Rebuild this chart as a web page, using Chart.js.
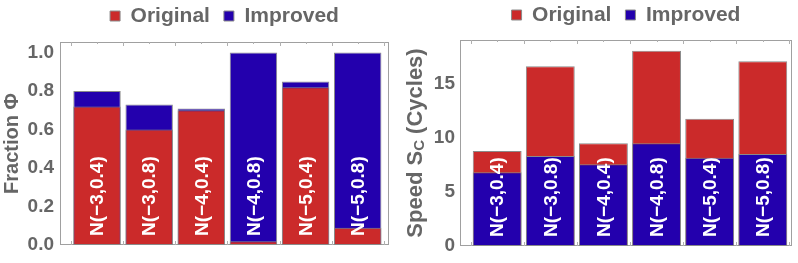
<!DOCTYPE html>
<html><head><meta charset="utf-8">
<script src="https://cdn.jsdelivr.net/npm/chart.js@4"></script>
<style>
html,body{margin:0;padding:0;background:#fff;}
#wrap{position:relative;width:798px;height:263px;overflow:hidden;}
.c{position:absolute;top:0;width:399px;height:263px;}
#c1{left:0;} #c2{left:399px;}
</style></head><body>
<div id="wrap"><div class="c" id="c1"><canvas id="left"></canvas></div><div class="c" id="c2"><canvas id="right"></canvas></div></div>
<script>
const categories = ["N(−3,0.4)","N(−3,0.8)","N(−4,0.4)","N(−4,0.8)","N(−5,0.4)","N(−5,0.8)"];
const fractionOriginal = [0.72, 0.60, 0.70, 0.02, 0.82, 0.09];
const fractionImproved = [0.80, 0.73, 0.71, 1.00, 0.85, 1.00];
const speedOriginal = [8.76, 16.56, 9.47, 18.0, 11.73, 17.02];
const speedImproved = [6.79, 8.29, 7.53, 9.47, 8.14, 8.48];
const fractionTicks = [0, 0.2, 0.4, 0.6, 0.8, 1.0];
const speedTicks = [0, 5, 10, 15];
const seriesNames = ["Original", "Improved"];

const RED = '#cb2a2a', BLUE = '#2300ad', GRAY = '#666666';
const FONT = "'Liberation Sans', Arial, sans-serif";

const framePlugin = {
  id: 'frame',
  beforeDatasetsDraw(chart) {
    const {ctx, chartArea: a, scales: {x}} = chart;
    ctx.save();
    ctx.strokeStyle = '#a0a0a0';
    ctx.lineWidth = 1;
    ctx.strokeRect(Math.round(a.left) + 0.5, Math.round(a.top) + 0.5, Math.round(a.right - a.left) - 1, Math.round(a.bottom - a.top) - 1);
    ctx.strokeStyle = '#b0b0b0';
    for (let i = -0.5; i <= categories.length - 0.5; i += 0.5) {
      const px = Math.round(x.getPixelForValue(i)) + 0.5;
      const len = Number.isInteger(i) ? 2 : 4;
      ctx.beginPath();
      ctx.moveTo(px, a.top); ctx.lineTo(px, a.top + len);
      ctx.moveTo(px, a.bottom); ctx.lineTo(px, a.bottom - len);
      ctx.stroke();
    }
    ctx.restore();
  }
};

const labelPlugin = {
  id: 'barLabels',
  afterDatasetsDraw(chart) {
    const {ctx, scales: {x, y}} = chart;
    ctx.save();
    ctx.fillStyle = '#ffffff';
    ctx.font = 'bold 19px ' + FONT;
    ctx.textAlign = 'left';
    ctx.textBaseline = 'middle';
    const y0 = y.getPixelForValue(0) - 9;
    categories.forEach((c, i) => {
      ctx.save();
      ctx.translate(x.getPixelForValue(i) + 1, y0);
      ctx.rotate(-Math.PI / 2);
      ctx.fillText(c, 0, 0);
      ctx.restore();
    });
    ctx.restore();
  }
};

const speedTitlePlugin = {
  id: 'speedTitle',
  afterDraw(chart) {
    const {ctx, chartArea: a} = chart;
    ctx.save();
    ctx.fillStyle = GRAY;
    ctx.textBaseline = 'middle';
    ctx.textAlign = 'left';
    const big = 'bold 22px ' + FONT, small = 'bold 15px ' + FONT;
    const p1 = 'Speed S', p2 = 'C', p3 = ' (Cycles)';
    ctx.font = big; const w1 = ctx.measureText(p1).width, w3 = ctx.measureText(p3).width;
    ctx.font = small; const w2 = ctx.measureText(p2).width;
    const total = w1 + w2 + w3;
    ctx.translate(17, (a.top + a.bottom) / 2);
    ctx.rotate(-Math.PI / 2);
    let cx = -total / 2;
    ctx.font = big; ctx.fillText(p1, cx, 0); cx += w1;
    ctx.font = small; ctx.fillText(p2, cx, 4); cx += w2;
    ctx.font = big; ctx.fillText(p3, cx, 0);
    ctx.restore();
  }
};

function makeChart(id, cfg) {
  const pts = arr => arr.map((v, i) => ({x: i, y: v}));
  const ds = [
    {label: seriesNames[0], data: pts(cfg.orig), backgroundColor: RED, borderColor: '#8a8a8a', borderWidth: 1, order: cfg.origOrder},
    {label: seriesNames[1], data: pts(cfg.imp), backgroundColor: BLUE, borderColor: '#8a8a8a', borderWidth: 1, order: cfg.impOrder}
  ];
  return new Chart(document.getElementById(id), {
    type: 'bar',
    data: {datasets: ds},
    options: {
      responsive: true,
      maintainAspectRatio: false,
      animation: false,
      devicePixelRatio: 1,
      layout: {padding: cfg.padding},
      datasets: {bar: {grouped: false, barPercentage: cfg.barPct, categoryPercentage: 1, borderSkipped: false}},
      plugins: {
        tooltip: {enabled: false},
        legend: {
          display: true,
          position: 'top',
          fullSize: false,
          labels: {
            boxWidth: 10, boxHeight: 10, padding: 14, color: GRAY,
            font: {family: FONT, size: 21, weight: 'bold'},
            sort: (a, b) => a.datasetIndex - b.datasetIndex
          }
        }
      },
      scales: {
        x: {
          type: 'linear', position: 'top', min: cfg.xmin, max: cfg.xmax, display: true, offset: false,
          grid: {display: false, drawTicks: false},
          border: {display: false},
          ticks: {display: false},
          afterBuildTicks: s => { s.ticks = categories.map((c, i) => ({value: i})); },
          afterFit: s => { s.height = cfg.xh; }
        },
        y: {
          min: 0, max: cfg.ymax,
          afterBuildTicks: s => { s.ticks = cfg.ticks.map(v => ({value: v})); },
          afterFit: s => { s.width = cfg.axisW; },
          grid: {display: false, drawTicks: false},
          border: {display: false},
          ticks: {color: GRAY, padding: cfg.tickPad, font: {family: FONT, size: 19, weight: 'bold'}, callback: cfg.fmt},
          title: cfg.title ? {display: true, text: cfg.title, color: GRAY, padding: 0, font: {family: FONT, size: 20, weight: 'bold'}} : {display: false}
        }
      }
    },
    plugins: cfg.plugins
  });
}

makeChart('left', {
  orig: fractionOriginal, imp: fractionImproved, origOrder: 0, impOrder: 1,
  padding: {left: 0, right: 10, top: -8.5, bottom: 18}, xh: 5.5,
  barPct: 0.91, xmin: -0.71, xmax: 5.6, ymax: 1.055, ticks: fractionTicks,
  axisW: 60, tickPad: 6, fmt: v => v.toFixed(1), title: 'Fraction Φ',
  plugins: [framePlugin, labelPlugin]
});

makeChart('right', {
  orig: speedOriginal, imp: speedImproved, origOrder: 1, impOrder: 0,
  padding: {left: 0, right: 6, top: -9.5, bottom: 17}, xh: 4.5,
  barPct: 0.92, xmin: -0.7, xmax: 5.55, ymax: 18.99, ticks: speedTicks,
  axisW: 61, tickPad: 5, fmt: v => String(v), title: null,
  plugins: [framePlugin, labelPlugin, speedTitlePlugin]
});
</script>
</body></html>
